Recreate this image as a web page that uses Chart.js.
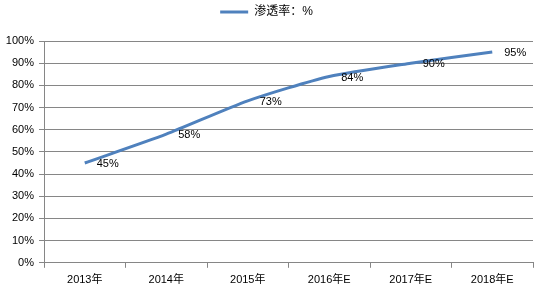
<!DOCTYPE html>
<html>
<head>
<meta charset="utf-8">
<script src="https://cdn.jsdelivr.net/npm/chart.js@4"></script>
<style>
  html, body { margin: 0; padding: 0; background: #fff; }
  #wrap { width: 538px; height: 295px; position: relative; }
</style>
</head>
<body>
<div id="wrap"><canvas id="chart"></canvas></div>
<script>
'use strict';

// ── Data ──────────────────────────────────────────────────────────────────────

const categories = ['2013年', '2014年', '2015年', '2016年E', '2017年E', '2018年E'];
const penetration = [45, 58, 73, 84, 90, 95];
const seriesName = '渗透率：%';

const LINE_COLOR = '#4F81BD';
const GRID_COLOR = '#868686';
const TEXT_COLOR = '#000';
const FONT = "'Liberation Sans', 'Noto Sans CJK SC', sans-serif";

Chart.defaults.font.family = FONT;
Chart.defaults.font.size = 11;
Chart.defaults.color = TEXT_COLOR;

// ── Data labels (right of each point) ─────────────────────────────────────────

const pointLabels = {
  id: 'pointLabels',
  afterDatasetsDraw(chart) {
    const { ctx } = chart;
    const meta = chart.getDatasetMeta(0);
    ctx.save();
    ctx.font = `11px ${FONT}`;
    ctx.fillStyle = TEXT_COLOR;
    ctx.textAlign = 'left';
    ctx.textBaseline = 'middle';
    meta.data.forEach((pt, i) => {
      ctx.fillText(`${penetration[i]}%`, pt.x + 12, pt.y + 1);
    });
    ctx.restore();
  },
};

// extra space under the legend so the plot starts lower
const legendGap = {
  id: 'legendGap',
  beforeInit(chart) {
    const fit = chart.legend.fit;
    chart.legend.fit = function () {
      fit.call(this);
      this.height += 13;
    };
  },
};

// ── Chart ─────────────────────────────────────────────────────────────────────

new Chart(document.getElementById('chart'), {
  type: 'line',
  data: {
    labels: categories,
    datasets: [{
      label: seriesName,
      data: penetration,
      borderColor: LINE_COLOR,
      backgroundColor: LINE_COLOR,
      borderWidth: 3,
      pointRadius: 0,
      tension: 0.22,
      fill: false,
    }],
  },
  options: {
    responsive: true,
    maintainAspectRatio: false,
    animation: false,
    layout: { padding: { left: 0, right: 5, top: 0, bottom: 2 } },
    plugins: {
      tooltip: { enabled: false },
      legend: {
        position: 'top',
        labels: {
          boxWidth: 28,
          boxHeight: 3,
          padding: 6,
          font: { size: 12 },
          generateLabels: chart => [{
            text: seriesName,
            fillStyle: LINE_COLOR,
            strokeStyle: LINE_COLOR,
            lineWidth: 0,
            datasetIndex: 0,
          }],
        },
      },
    },
    scales: {
      x: {
        offset: true,
        grid: {
          offset: true,
          drawOnChartArea: false,
          color: GRID_COLOR,
          tickLength: 5,
        },
        border: { color: GRID_COLOR },
        ticks: { padding: 6, maxRotation: 0 },
      },
      y: {
        min: 0,
        max: 100,
        afterFit: axis => { axis.width = 44; },
        grid: { color: GRID_COLOR, tickLength: 5 },
        border: { color: GRID_COLOR },
        ticks: { stepSize: 10, padding: 5, callback: v => `${v}%` },
      },
    },
  },
  plugins: [pointLabels, legendGap],
});
</script>
</body>
</html>
